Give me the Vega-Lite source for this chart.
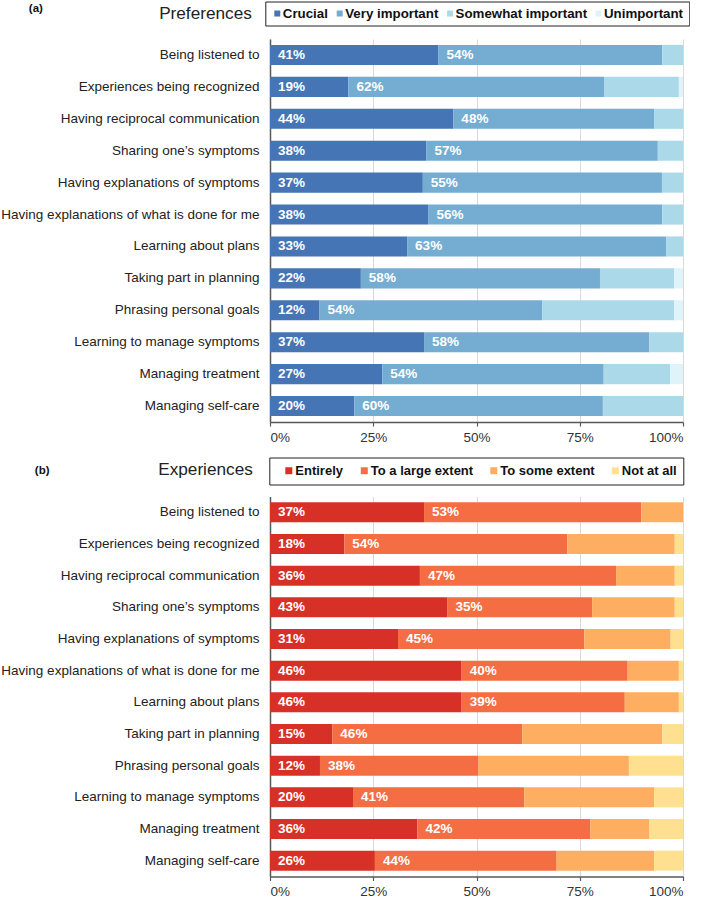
{
  "$schema": "https://vega.github.io/schema/vega-lite/v6.json",
  "padding": {"left": 0, "top": 1, "right": 0, "bottom": 0},
  "background": "white",
  "config": {
    "view": {"stroke": null},
    "font": "Liberation Sans",
    "axis": {"labelFont": "Liberation Sans", "titleFont": "Liberation Sans"},
    "legend": {"labelFont": "Liberation Sans"}
  },
  "resolve": {
    "scale": {"color": "independent", "x": "independent", "y": "independent"},
    "legend": {"color": "independent"},
    "axis": {"x": "independent", "y": "independent"}
  },
  "spacing": 12.5,
  "datasets": {
    "pref": [
      {"item": "Being listened to", "level": "Crucial", "k": 1, "value": 0.408, "label": "41%"},
      {"item": "Being listened to", "level": "Very important", "k": 2, "value": 0.542, "label": "54%"},
      {"item": "Being listened to", "level": "Somewhat important", "k": 3, "value": 0.05, "label": ""},
      {"item": "Being listened to", "level": "Unimportant", "k": 4, "value": 0.0, "label": ""},
      {"item": "Experiences being recognized", "level": "Crucial", "k": 1, "value": 0.19, "label": "19%"},
      {"item": "Experiences being recognized", "level": "Very important", "k": 2, "value": 0.62, "label": "62%"},
      {"item": "Experiences being recognized", "level": "Somewhat important", "k": 3, "value": 0.18, "label": ""},
      {"item": "Experiences being recognized", "level": "Unimportant", "k": 4, "value": 0.01, "label": ""},
      {"item": "Having reciprocal communication", "level": "Crucial", "k": 1, "value": 0.444, "label": "44%"},
      {"item": "Having reciprocal communication", "level": "Very important", "k": 2, "value": 0.486, "label": "48%"},
      {"item": "Having reciprocal communication", "level": "Somewhat important", "k": 3, "value": 0.07, "label": ""},
      {"item": "Having reciprocal communication", "level": "Unimportant", "k": 4, "value": 0.0, "label": ""},
      {"item": "Sharing one’s symptoms", "level": "Crucial", "k": 1, "value": 0.379, "label": "38%"},
      {"item": "Sharing one’s symptoms", "level": "Very important", "k": 2, "value": 0.56, "label": "57%"},
      {"item": "Sharing one’s symptoms", "level": "Somewhat important", "k": 3, "value": 0.061, "label": ""},
      {"item": "Sharing one’s symptoms", "level": "Unimportant", "k": 4, "value": 0.0, "label": ""},
      {"item": "Having explanations of symptoms", "level": "Crucial", "k": 1, "value": 0.37, "label": "37%"},
      {"item": "Having explanations of symptoms", "level": "Very important", "k": 2, "value": 0.579, "label": "55%"},
      {"item": "Having explanations of symptoms", "level": "Somewhat important", "k": 3, "value": 0.051, "label": ""},
      {"item": "Having explanations of symptoms", "level": "Unimportant", "k": 4, "value": 0.0, "label": ""},
      {"item": "Having explanations of what is done for me", "level": "Crucial", "k": 1, "value": 0.384, "label": "38%"},
      {"item": "Having explanations of what is done for me", "level": "Very important", "k": 2, "value": 0.566, "label": "56%"},
      {"item": "Having explanations of what is done for me", "level": "Somewhat important", "k": 3, "value": 0.05, "label": ""},
      {"item": "Having explanations of what is done for me", "level": "Unimportant", "k": 4, "value": 0.0, "label": ""},
      {"item": "Learning about plans", "level": "Crucial", "k": 1, "value": 0.332, "label": "33%"},
      {"item": "Learning about plans", "level": "Very important", "k": 2, "value": 0.627, "label": "63%"},
      {"item": "Learning about plans", "level": "Somewhat important", "k": 3, "value": 0.041, "label": ""},
      {"item": "Learning about plans", "level": "Unimportant", "k": 4, "value": 0.0, "label": ""},
      {"item": "Taking part in planning", "level": "Crucial", "k": 1, "value": 0.22, "label": "22%"},
      {"item": "Taking part in planning", "level": "Very important", "k": 2, "value": 0.579, "label": "58%"},
      {"item": "Taking part in planning", "level": "Somewhat important", "k": 3, "value": 0.18, "label": ""},
      {"item": "Taking part in planning", "level": "Unimportant", "k": 4, "value": 0.021, "label": ""},
      {"item": "Phrasing personal goals", "level": "Crucial", "k": 1, "value": 0.12, "label": "12%"},
      {"item": "Phrasing personal goals", "level": "Very important", "k": 2, "value": 0.539, "label": "54%"},
      {"item": "Phrasing personal goals", "level": "Somewhat important", "k": 3, "value": 0.32, "label": ""},
      {"item": "Phrasing personal goals", "level": "Unimportant", "k": 4, "value": 0.021, "label": ""},
      {"item": "Learning to manage symptoms", "level": "Crucial", "k": 1, "value": 0.373, "label": "37%"},
      {"item": "Learning to manage symptoms", "level": "Very important", "k": 2, "value": 0.545, "label": "58%"},
      {"item": "Learning to manage symptoms", "level": "Somewhat important", "k": 3, "value": 0.082, "label": ""},
      {"item": "Learning to manage symptoms", "level": "Unimportant", "k": 4, "value": 0.0, "label": ""},
      {"item": "Managing treatment", "level": "Crucial", "k": 1, "value": 0.272, "label": "27%"},
      {"item": "Managing treatment", "level": "Very important", "k": 2, "value": 0.536, "label": "54%"},
      {"item": "Managing treatment", "level": "Somewhat important", "k": 3, "value": 0.161, "label": ""},
      {"item": "Managing treatment", "level": "Unimportant", "k": 4, "value": 0.031, "label": ""},
      {"item": "Managing self-care", "level": "Crucial", "k": 1, "value": 0.204, "label": "20%"},
      {"item": "Managing self-care", "level": "Very important", "k": 2, "value": 0.602, "label": "60%"},
      {"item": "Managing self-care", "level": "Somewhat important", "k": 3, "value": 0.194, "label": ""},
      {"item": "Managing self-care", "level": "Unimportant", "k": 4, "value": 0.0, "label": ""}
    ],
    "exp": [
      {"item": "Being listened to", "extent": "Entirely", "k": 1, "value": 0.373, "label": "37%"},
      {"item": "Being listened to", "extent": "To a large extent", "k": 2, "value": 0.526, "label": "53%"},
      {"item": "Being listened to", "extent": "To some extent", "k": 3, "value": 0.101, "label": ""},
      {"item": "Being listened to", "extent": "Not at all", "k": 4, "value": 0.0, "label": ""},
      {"item": "Experiences being recognized", "extent": "Entirely", "k": 1, "value": 0.18, "label": "18%"},
      {"item": "Experiences being recognized", "extent": "To a large extent", "k": 2, "value": 0.54, "label": "54%"},
      {"item": "Experiences being recognized", "extent": "To some extent", "k": 3, "value": 0.26, "label": ""},
      {"item": "Experiences being recognized", "extent": "Not at all", "k": 4, "value": 0.02, "label": ""},
      {"item": "Having reciprocal communication", "extent": "Entirely", "k": 1, "value": 0.363, "label": "36%"},
      {"item": "Having reciprocal communication", "extent": "To a large extent", "k": 2, "value": 0.475, "label": "47%"},
      {"item": "Having reciprocal communication", "extent": "To some extent", "k": 3, "value": 0.142, "label": ""},
      {"item": "Having reciprocal communication", "extent": "Not at all", "k": 4, "value": 0.02, "label": ""},
      {"item": "Sharing one’s symptoms", "extent": "Entirely", "k": 1, "value": 0.43, "label": "43%"},
      {"item": "Sharing one’s symptoms", "extent": "To a large extent", "k": 2, "value": 0.35, "label": "35%"},
      {"item": "Sharing one’s symptoms", "extent": "To some extent", "k": 3, "value": 0.2, "label": ""},
      {"item": "Sharing one’s symptoms", "extent": "Not at all", "k": 4, "value": 0.02, "label": ""},
      {"item": "Having explanations of symptoms", "extent": "Entirely", "k": 1, "value": 0.31, "label": "31%"},
      {"item": "Having explanations of symptoms", "extent": "To a large extent", "k": 2, "value": 0.451, "label": "45%"},
      {"item": "Having explanations of symptoms", "extent": "To some extent", "k": 3, "value": 0.209, "label": ""},
      {"item": "Having explanations of symptoms", "extent": "Not at all", "k": 4, "value": 0.03, "label": ""},
      {"item": "Having explanations of what is done for me", "extent": "Entirely", "k": 1, "value": 0.464, "label": "46%"},
      {"item": "Having explanations of what is done for me", "extent": "To a large extent", "k": 2, "value": 0.402, "label": "40%"},
      {"item": "Having explanations of what is done for me", "extent": "To some extent", "k": 3, "value": 0.124, "label": ""},
      {"item": "Having explanations of what is done for me", "extent": "Not at all", "k": 4, "value": 0.01, "label": ""},
      {"item": "Learning about plans", "extent": "Entirely", "k": 1, "value": 0.464, "label": "46%"},
      {"item": "Learning about plans", "extent": "To a large extent", "k": 2, "value": 0.395, "label": "39%"},
      {"item": "Learning about plans", "extent": "To some extent", "k": 3, "value": 0.131, "label": ""},
      {"item": "Learning about plans", "extent": "Not at all", "k": 4, "value": 0.01, "label": ""},
      {"item": "Taking part in planning", "extent": "Entirely", "k": 1, "value": 0.151, "label": "15%"},
      {"item": "Taking part in planning", "extent": "To a large extent", "k": 2, "value": 0.46, "label": "46%"},
      {"item": "Taking part in planning", "extent": "To some extent", "k": 3, "value": 0.339, "label": ""},
      {"item": "Taking part in planning", "extent": "Not at all", "k": 4, "value": 0.05, "label": ""},
      {"item": "Phrasing personal goals", "extent": "Entirely", "k": 1, "value": 0.121, "label": "12%"},
      {"item": "Phrasing personal goals", "extent": "To a large extent", "k": 2, "value": 0.384, "label": "38%"},
      {"item": "Phrasing personal goals", "extent": "To some extent", "k": 3, "value": 0.364, "label": ""},
      {"item": "Phrasing personal goals", "extent": "Not at all", "k": 4, "value": 0.131, "label": ""},
      {"item": "Learning to manage symptoms", "extent": "Entirely", "k": 1, "value": 0.201, "label": "20%"},
      {"item": "Learning to manage symptoms", "extent": "To a large extent", "k": 2, "value": 0.415, "label": "41%"},
      {"item": "Learning to manage symptoms", "extent": "To some extent", "k": 3, "value": 0.314, "label": ""},
      {"item": "Learning to manage symptoms", "extent": "Not at all", "k": 4, "value": 0.07, "label": ""},
      {"item": "Managing treatment", "extent": "Entirely", "k": 1, "value": 0.357, "label": "36%"},
      {"item": "Managing treatment", "extent": "To a large extent", "k": 2, "value": 0.419, "label": "42%"},
      {"item": "Managing treatment", "extent": "To some extent", "k": 3, "value": 0.143, "label": ""},
      {"item": "Managing treatment", "extent": "Not at all", "k": 4, "value": 0.081, "label": ""},
      {"item": "Managing self-care", "extent": "Entirely", "k": 1, "value": 0.254, "label": "26%"},
      {"item": "Managing self-care", "extent": "To a large extent", "k": 2, "value": 0.44, "label": "44%"},
      {"item": "Managing self-care", "extent": "To some extent", "k": 3, "value": 0.236, "label": ""},
      {"item": "Managing self-care", "extent": "Not at all", "k": 4, "value": 0.07, "label": ""}
    ]
  },
  "vconcat": [
    {
      "width": 413,
      "height": 383,
      "data": {"name": "pref"},
      "transform": [
        {"stack": "value", "groupby": ["item"], "sort": [{"field": "k", "order": "ascending"}], "as": ["x0", "x1"]}
      ],
      "encoding": {
        "y": {
          "field": "item",
          "type": "nominal",
          "sort": ["Being listened to", "Experiences being recognized", "Having reciprocal communication", "Sharing one’s symptoms", "Having explanations of symptoms", "Having explanations of what is done for me", "Learning about plans", "Taking part in planning", "Phrasing personal goals", "Learning to manage symptoms", "Managing treatment", "Managing self-care"],
          "scale": {"paddingInner": 0.37, "paddingOuter": 0.185},
          "axis": {
            "title": "(a)",
            "titleAngle": 0,
            "titleAlign": "left",
            "titleBaseline": "alphabetic",
            "titleX": -241.7,
            "titleY": -27.5,
            "titleFontSize": 11.5,
            "titleFontWeight": "bold",
            "titleColor": "#111",
            "labelFontSize": 13.5,
            "labelColor": "#222",
            "labelPadding": 11,
            "labelLimit": 400,
            "ticks": false,
            "domainColor": "#595959",
            "domainWidth": 1.5
          }
        }
      },
      "layer": [
        {
          "mark": {"type": "bar"},
          "encoding": {
            "x": {
              "field": "x0",
              "type": "quantitative",
              "scale": {"domain": [0, 1], "nice": false},
              "axis": {
                "values": [0, 0.25, 0.5, 0.75, 1],
                "format": ".0%",
                "grid": true,
                "gridColor": "#d9d9d9",
                "gridWidth": 1,
                "domainColor": "#595959",
                "domainWidth": 1.5,
                "tickColor": "#595959",
                "tickSize": 4,
                "tickWidth": 1.2,
                "labelFontSize": 13.5,
                "labelColor": "#333",
                "labelPadding": 4,
                "title": "Preferences",
                "titleFontSize": 17.2,
                "titleFontWeight": "normal",
                "titleColor": "#222",
                "titleAlign": "right",
                "titleBaseline": "alphabetic",
                "titleX": -18.7,
                "titleY": -403.5
              }
            },
            "x2": {"field": "x1"},
            "color": {
              "field": "level",
              "type": "nominal",
              "scale": {
                "domain": ["Crucial", "Very important", "Somewhat important", "Unimportant"],
                "range": ["#4575b4", "#74add1", "#abd9e9", "#e0f3f8"]
              },
              "legend": {
                "title": null,
                "orient": "none",
                "legendX": -4.7,
                "legendY": -37.5,
                "direction": "horizontal",
                "columns": 4,
                "padding": 5.35,
                "strokeColor": "#222",
                "symbolType": "square",
                "symbolSize": 36,
                "symbolStrokeWidth": 0,
                "labelFontSize": 13.3,
                "labelFontWeight": "bold",
                "labelColor": "#111",
                "labelOffset": -1.15,
                "columnPadding": 4.4
              }
            }
          }
        },
        {
          "transform": [{"filter": "datum.k <= 2"}],
          "mark": {"type": "text", "align": "left", "baseline": "middle", "dx": 8, "fontSize": 13.5, "fontWeight": "bold", "color": "white"},
          "encoding": {
            "x": {"field": "x0", "type": "quantitative"},
            "text": {"field": "label", "type": "nominal"}
          }
        }
      ]
    },
    {
      "width": 413,
      "height": 380,
      "data": {"name": "exp"},
      "transform": [
        {"stack": "value", "groupby": ["item"], "sort": [{"field": "k", "order": "ascending"}], "as": ["x0", "x1"]}
      ],
      "encoding": {
        "y": {
          "field": "item",
          "type": "nominal",
          "sort": ["Being listened to", "Experiences being recognized", "Having reciprocal communication", "Sharing one’s symptoms", "Having explanations of symptoms", "Having explanations of what is done for me", "Learning about plans", "Taking part in planning", "Phrasing personal goals", "Learning to manage symptoms", "Managing treatment", "Managing self-care"],
          "scale": {"paddingInner": 0.37, "paddingOuter": 0.185},
          "axis": {
            "title": "(b)",
            "titleAngle": 0,
            "titleAlign": "left",
            "titleBaseline": "alphabetic",
            "titleX": -235.7,
            "titleY": -23,
            "titleFontSize": 11.5,
            "titleFontWeight": "bold",
            "titleColor": "#111",
            "labelFontSize": 13.5,
            "labelColor": "#222",
            "labelPadding": 11,
            "labelLimit": 400,
            "ticks": false,
            "domainColor": "#595959",
            "domainWidth": 1.5
          }
        }
      },
      "layer": [
        {
          "mark": {"type": "bar"},
          "encoding": {
            "x": {
              "field": "x0",
              "type": "quantitative",
              "scale": {"domain": [0, 1], "nice": false},
              "axis": {
                "values": [0, 0.25, 0.5, 0.75, 1],
                "format": ".0%",
                "grid": true,
                "gridColor": "#d9d9d9",
                "gridWidth": 1,
                "domainColor": "#595959",
                "domainWidth": 1.5,
                "tickColor": "#595959",
                "tickSize": 4,
                "tickWidth": 1.2,
                "labelFontSize": 13.5,
                "labelColor": "#333",
                "labelPadding": 4,
                "title": "Experiences",
                "titleFontSize": 17.2,
                "titleFontWeight": "normal",
                "titleColor": "#222",
                "titleAlign": "right",
                "titleBaseline": "alphabetic",
                "titleX": -17.7,
                "titleY": -402
              }
            },
            "x2": {"field": "x1"},
            "color": {
              "field": "extent",
              "type": "nominal",
              "scale": {
                "domain": ["Entirely", "To a large extent", "To some extent", "Not at all"],
                "range": ["#d73027", "#f46d43", "#fdae61", "#fee090"]
              },
              "legend": {
                "title": null,
                "orient": "none",
                "legendX": -0.7,
                "legendY": -39,
                "direction": "horizontal",
                "columns": 4,
                "padding": 6.5,
                "strokeColor": "#222",
                "symbolType": "square",
                "symbolSize": 49,
                "symbolStrokeWidth": 0,
                "symbolOffset": 6.5,
                "labelFontSize": 13,
                "labelFontWeight": "bold",
                "labelColor": "#111",
                "labelOffset": 0,
                "columnPadding": 7.5
              }
            }
          }
        },
        {
          "transform": [{"filter": "datum.k <= 2"}],
          "mark": {"type": "text", "align": "left", "baseline": "middle", "dx": 8, "fontSize": 13.5, "fontWeight": "bold", "color": "white"},
          "encoding": {
            "x": {"field": "x0", "type": "quantitative"},
            "text": {"field": "label", "type": "nominal"}
          }
        }
      ]
    }
  ]
}
